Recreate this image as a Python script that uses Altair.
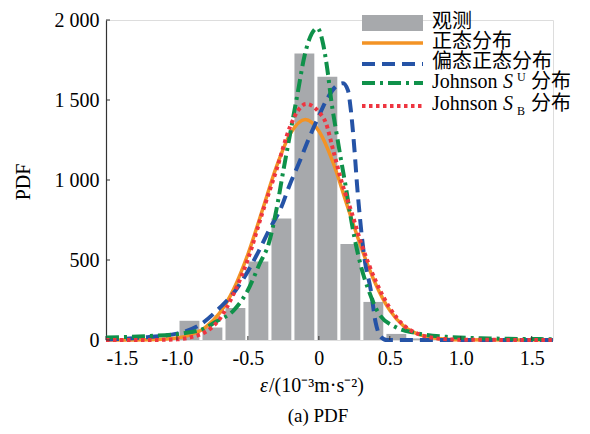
import altair as alt
import pandas as pd

# ---- data ----
bin_centers = [-0.912, -0.75, -0.588, -0.426, -0.264, -0.102, 0.06, 0.222, 0.384, 0.546, 0.708, 0.87]
bin_counts = [120, 78, 200, 490, 760, 1790, 1645, 600, 238, 38, 10, 4]
bin_half_width = 0.07

normal_x = [-1.5, -1.2, -1.0, -0.9, -0.8, -0.7, -0.6, -0.5, -0.4, -0.3, -0.2, -0.095, 0.0, 0.1, 0.2, 0.3, 0.4, 0.5, 0.6, 0.7, 0.8, 0.9, 1.0, 1.65]
normal_y = [0, 1, 12, 33, 79, 168, 318, 536, 806, 1080, 1291, 1378, 1306, 1110, 840, 575, 350, 185, 85, 36, 14, 5, 1, 0]

skew_x = [-1.5, -1.25, -1.0, -0.82, -0.7, -0.585, -0.5, -0.42, -0.35, -0.26, -0.21, -0.14, -0.07, 0.0, 0.06, 0.12, 0.17, 0.205, 0.225, 0.25, 0.27, 0.29, 0.32, 0.366, 0.40, 0.437, 0.48, 0.7, 1.65]
skew_y = [3, 15, 40, 106, 200, 312, 430, 562, 688, 840, 960, 1106, 1260, 1400, 1510, 1585, 1605, 1560, 1440, 1200, 960, 760, 519, 312, 110, 19, 0, 0, 0]

su_x = [-1.5, -1.2, -0.94, -0.8, -0.725, -0.605, -0.507, -0.415, -0.352, -0.3, -0.25, -0.2, -0.15, -0.1, -0.05, -0.01, 0.03, 0.06, 0.09, 0.125, 0.16, 0.19, 0.22, 0.25, 0.3, 0.35, 0.42, 0.54, 0.68, 0.9, 1.2, 1.65]
su_y = [15, 25, 44, 75, 115, 181, 300, 481, 606, 810, 1060, 1300, 1540, 1780, 1915, 1950, 1850, 1690, 1480, 1290, 1106, 956, 790, 644, 450, 312, 169, 81, 44, 20, 10, 5]

sb_x = [-1.5, -1.2, -1.0, -0.9, -0.8, -0.7, -0.6, -0.5, -0.4, -0.3, -0.2, -0.15, -0.09, 0.0, 0.05, 0.1, 0.16, 0.23, 0.3, 0.4, 0.5, 0.6, 0.7, 0.8, 0.9, 1.0, 1.65]
sb_y = [0, 0, 4, 18, 50, 130, 290, 505, 790, 1060, 1340, 1430, 1475, 1425, 1355, 1190, 990, 800, 600, 370, 200, 90, 38, 14, 5, 2, 0]

x_ticks = [-1.5, -1.0, -0.5, 0.0, 0.5, 1.0, 1.5]
y_ticks = [0, 500, 1000, 1500, 2000]

legend_labels = ["观测", "正态分布", "偏态正态分布", "Johnson", "Johnson"]

# ---- styling ----
SERIF = "Liberation Serif"
CJK = "Noto Sans CJK SC"
C_BAR = "#a7a9ac"
C_ORANGE = "#f39325"
C_BLUE = "#2553a6"
C_GREEN = "#0f914a"
C_RED = "#ee3540"
FS = 20
LW = 4

W, H = 447, 320
xscale = alt.Scale(domain=[-1.5, 1.65], nice=False, zero=False)
yscale = alt.Scale(domain=[0, 2000], nice=False)

bars_df = pd.DataFrame({"c": bin_centers, "n": bin_counts})
bars = alt.Chart(bars_df).transform_calculate(
    x0=f"datum.c - {bin_half_width}", x1=f"datum.c + {bin_half_width}"
).mark_rect(color=C_BAR).encode(
    x=alt.X("x0:Q", scale=xscale, axis=alt.Axis(
        values=x_ticks, domain=False, ticks=False, grid=False, title=None,
        labelFont=SERIF, labelFontSize=FS, labelColor="black", labelPadding=8,
        labelExpr="datum.value == 0 ? '0' : (datum.value < 0 ? '-' : '') + format(abs(datum.value), '.1f')")),
    x2="x1:Q",
    y=alt.Y("n:Q", scale=yscale, axis=alt.Axis(
        values=y_ticks, domain=True, domainColor="#333", domainWidth=1.2, ticks=False, grid=False, title=None,
        labelFont=SERIF, labelFontSize=FS, labelColor="black", labelPadding=7,
        labelExpr="replace(format(datum.value, ','), ',', ' ')")),
)


def curve(xs, ys, color, dash, width):
    df = pd.DataFrame({"x": xs, "y": ys})
    kw = dict(color=color, strokeWidth=width, interpolate="monotone")
    if dash:
        kw["strokeDash"] = dash
    return alt.Chart(df).mark_line(**kw).encode(
        x=alt.X("x:Q", scale=xscale), y=alt.Y("y:Q", scale=yscale))


l_norm = curve(normal_x, normal_y, C_ORANGE, None, 3.5)
l_skew = curve(skew_x, skew_y, C_BLUE, [13, 7], LW)
l_su = curve(su_x, su_y, C_GREEN, [13, 5, 3, 5], LW)
l_sb = curve(sb_x, sb_y, C_RED, [3.5, 3.5], LW)

xt = alt.Chart(pd.DataFrame({"t": x_ticks})).mark_rule(color="#333", strokeWidth=1).encode(
    x=alt.X("t:Q", scale=xscale), y=alt.value(H), y2=alt.value(H - 4))
yt = alt.Chart(pd.DataFrame({"t": y_ticks})).mark_rule(color="#333", strokeWidth=1).encode(
    y=alt.Y("t:Q", scale=yscale), x=alt.value(0), x2=alt.value(4))

one = pd.DataFrame({"a": [0]})


def txt(s, x, y, size=FS, font=SERIF, style="normal", align="left", angle=0):
    kw = dict(fontSize=size, font=font, fontStyle=style, align=align, baseline="middle", color="black")
    if angle:
        kw["angle"] = angle
    return alt.Chart(one).mark_text(**kw).encode(x=alt.value(x), y=alt.value(y), text=alt.value(s))


def sym(color, dash, y, width=LW):
    kw = dict(color=color, strokeWidth=width)
    if dash:
        kw["strokeDash"] = dash
    return alt.Chart(one).mark_rule(**kw).encode(x=alt.value(256), x2=alt.value(317), y=alt.value(y))


leg_rect = alt.Chart(one).mark_rect(color=C_BAR).encode(
    x=alt.value(256), x2=alt.value(317), y=alt.value(-5), y2=alt.value(11))

legend = [
    leg_rect,
    sym(C_ORANGE, None, 23, 3.5),
    sym(C_BLUE, [13, 7], 44),
    sym(C_GREEN, [13, 5, 3, 5], 63),
    sym(C_RED, [3.5, 3.5], 86),
    txt(legend_labels[0], 326, 2, font=CJK),
    txt(legend_labels[1], 326, 22, font=CJK),
    txt(legend_labels[2], 326, 42, font=CJK),
    txt(legend_labels[3], 326, 62),
    txt("S", 397, 62, style="italic"),
    txt("U", 411, 57, size=12),
    txt("分布", 425, 62, font=CJK),
    txt(legend_labels[4], 326, 84),
    txt("S", 397, 84, style="italic"),
    txt("B", 411, 91, size=12),
    txt("分布", 425, 84, font=CJK),
]

titles = [
    txt("ε", 154, 366, style="italic"),
    txt("/(10⁻³m·s⁻²)", 163, 366),
    txt("(a) PDF", 212, 396, align="center", size=19),
    txt("PDF", -82, 162, align="center", angle=270),
]

chart = alt.layer(bars, l_norm, l_skew, l_su, l_sb, xt, yt, *legend, *titles).properties(
    width=W, height=H,
    autosize=alt.AutoSizeParams(type="none"),
    padding={"left": 98, "top": 12, "right": 29, "bottom": 86},
).configure_view(stroke=None).configure_axis(labelFont=SERIF).configure(background="white")

chart.save("out.html", embed_options={"renderer": "svg", "actions": False})
